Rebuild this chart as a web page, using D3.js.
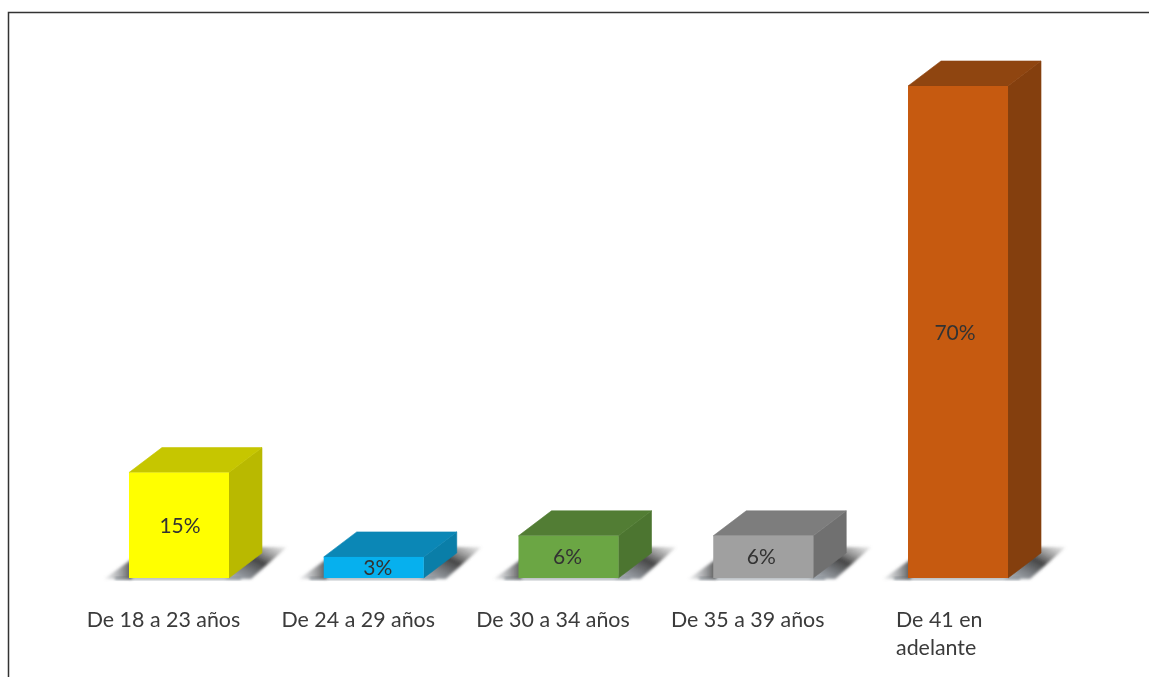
<!DOCTYPE html>
<html><head><meta charset="utf-8">
<script src="https://cdn.jsdelivr.net/npm/d3@7/dist/d3.min.js"></script>
<style>html,body{margin:0;padding:0;background:#fff;overflow:hidden}svg{display:block}text{font-family:Lato,"Open Sans",sans-serif}</style>
</head><body><svg id="c" width="1149" height="677"></svg>
<script>
const categories = ["De 18 a 23 años","De 24 a 29 años","De 30 a 34 años","De 35 a 39 años","De 41 en adelante"];
const values = [15,3,6,6,70];
const frontColors = ["#ffff00","#06b0ee","#6ba644","#a0a0a0","#c65a10"];
const topColors = ["#c6c600","#0b87b6","#527d34","#7d7d7d","#8f4510"];
const sideColors = ["#b9b900","#0a7ea8","#4c7530","#707070","#843f0e"];
const labelLines = [["De 18 a 23 años"],["De 24 a 29 años"],["De 30 a 34 años"],["De 35 a 39 años"],["De 41 en","adelante"]];

const W=1149,H=677,baseY=578,dx=33,dy=25;
const svg=d3.select("#c");
const x=d3.scaleBand().domain(categories).range([81.6,1055.4]).paddingInner(0.4865).paddingOuter(0.2433);
const y=d3.scaleLinear().domain([0,70]).range([baseY,86]);
const defs=svg.append("defs");
const soft=defs.append("filter").attr("id","soft").attr("x","-20%").attr("y","-20%").attr("width","140%").attr("height","140%");
soft.append("feGaussianBlur").attr("stdDeviation",0.4);
const sb=defs.append("filter").attr("id","sb").attr("x","-30%").attr("y","-30%").attr("width","160%").attr("height","160%");
sb.append("feGaussianBlur").attr("stdDeviation",1.8);
const gl=defs.append("linearGradient").attr("id","shL").attr("x1",0).attr("x2",1).attr("y1",0).attr("y2",0);
gl.append("stop").attr("offset",0).attr("stop-color","#8a8f96").attr("stop-opacity",.1);
gl.append("stop").attr("offset",1).attr("stop-color","#3f3f3f").attr("stop-opacity",.9);
const gr=defs.append("linearGradient").attr("id","shR").attr("x1",0).attr("x2",1).attr("y1",1).attr("y2",0);
gr.append("stop").attr("offset",0).attr("stop-color","#8f98a3").attr("stop-opacity",.7);
gr.append("stop").attr("offset",.55).attr("stop-color","#3c3c3c").attr("stop-opacity",.95);
gr.append("stop").attr("offset",1).attr("stop-color","#777").attr("stop-opacity",.1);

// frame
svg.append("path").attr("d",`M8.5,${H} V12.5 H${W}`).attr("fill","none").attr("stroke","#333").attr("stroke-width",1.5);

const path=p=>"M"+p.map(q=>q.join(",")).join("L")+"Z";
const g=svg.selectAll("g.bar").data(categories.map((c,i)=>({c,i,v:values[i],lines:labelLines[i]}))).join("g").attr("class","bar");

// shadows
g.append("rect").attr("filter","url(#sb)").attr("fill","#7d8790").attr("x",d=>x(d.c)-14).attr("y",baseY-0.5).attr("width",x.bandwidth()+26).attr("height",2);
g.append("path").attr("filter","url(#sb)").attr("fill","url(#shL)")
 .attr("d",d=>{const a=x(d.c);return path([[a-25,baseY+1],[a+3,baseY-19],[a+3,baseY+1]]);});
g.append("path").attr("filter","url(#sb)").attr("fill","url(#shR)")
 .attr("d",d=>{const b=x(d.c)+x.bandwidth();return path([[b-4,baseY+1],[b+dx-3,baseY-dy-6],[b+dx+25,baseY-dy-6],[b+22,baseY+1]]);});

// side, top, front
g.append("path").attr("fill",d=>sideColors[d.i]).attr("stroke",d=>sideColors[d.i]).attr("stroke-width",.6).attr("d",d=>{const b=x(d.c)+x.bandwidth(),t=y(d.v);
  return path([[b,t],[b+dx,t-dy],[b+dx,baseY-dy],[b,baseY]]);});
g.append("path").attr("fill",d=>topColors[d.i]).attr("stroke",d=>topColors[d.i]).attr("stroke-width",.6).attr("d",d=>{const a=x(d.c),b=a+x.bandwidth(),t=y(d.v);
  return path([[a,t],[a+dx,t-dy],[b+dx,t-dy],[b,t]]);});
g.append("rect").attr("fill",d=>frontColors[d.i]).attr("x",d=>x(d.c)).attr("y",d=>y(d.v)).attr("width",x.bandwidth()).attr("height",d=>baseY-y(d.v));

// value labels
g.append("text").attr("text-anchor","middle").attr("font-size",21).attr("fill","#333").attr("filter","url(#soft)")
 .attr("x",d=>x(d.c)+x.bandwidth()/2+[1,4,-1,-2,-3][d.i]).attr("y",d=>(y(d.v)+baseY)/2+7.5).text(d=>d.v+"%");

// category labels
const t=g.append("text").attr("font-size",21.4).attr("fill","#3a3a3a").attr("filter","url(#soft)")
 .attr("text-anchor",d=>d.lines.length>1?"start":"middle");
t.selectAll("tspan").data(d=>d.lines.map((s,j)=>({s,j,d}))).join("tspan")
 .attr("x",o=>o.d.lines.length>1?896:x(o.d.c)+x.bandwidth()/2-15.5)
 .attr("y",o=>627+o.j*28).text(o=>o.s);
</script></body></html>
